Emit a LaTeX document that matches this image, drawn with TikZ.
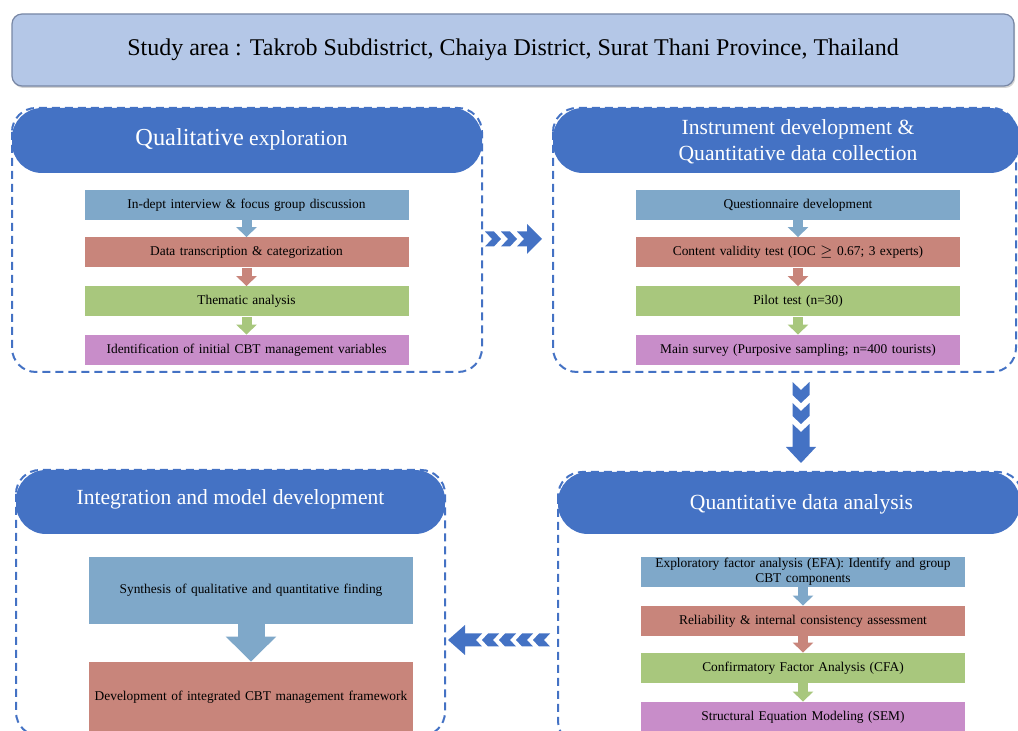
\documentclass[tikz,border=0pt]{standalone}
\usepackage{fontspec}
\setmainfont{Liberation Serif}
\usepackage{tikz}
\usetikzlibrary{arrows.meta, shadows}

\definecolor{headblue}{RGB}{68,114,196}
\definecolor{areafill}{RGB}{180,199,231}
\definecolor{areadraw}{RGB}{120,135,165}
\definecolor{stepblue}{RGB}{127,168,201}
\definecolor{stepred}{RGB}{200,133,123}
\definecolor{stepgreen}{RGB}{168,199,125}
\definecolor{steppurple}{RGB}{200,141,201}

\tikzset{
  stepbox/.style={text width=158pt, inner xsep=2pt, inner ysep=0pt, minimum height=15pt,
    align=center, font=\fontsize{6.7}{7.5}\selectfont},
  headtext/.style={text=white, align=center, font=\fontsize{10.8}{13}\selectfont},
  panel/.style={draw=headblue, line width=1pt, dash pattern=on 4pt off 2.5pt, rounded corners=12pt},
  smallarrow/.style={line width=5pt, -{Triangle[width=10pt,length=5pt]}},
  pics/chev/.style n args={3}{code={
    \fill[headblue] (0,-#2) -- ({#1-#3},-#2) -- (#1,0) -- ({#1-#3},#2) -- (0,#2) -- (#3,0) -- cycle;}},
  pics/chevhead/.style n args={5}{code={
    \fill[headblue] (0,-#2) -- (#1,-#2) -- (#1,-#3) -- ({#1+#4},0) -- (#1,#3) -- (#1,#2) -- (0,#2) -- (#5,0) -- cycle;}}
}

\begin{document}
\begin{tikzpicture}[x=0.5pt, y=-0.5pt]
    \useasboundingbox (0,0) rectangle (1018,731);

    % Study area
    \node[fill=areafill, draw=areadraw, line width=0.6pt, rounded corners=5pt,
          minimum width=501pt, minimum height=36pt,
          drop shadow={shadow xshift=0.6pt, shadow yshift=-1pt, opacity=0.35},
          font=\fontsize{12}{14}\selectfont] (area) at (513,50)
        {Study area : Takrob Subdistrict, Chaiya District, Surat Thani Province, Thailand};

    % Qualitative exploration
    \fill[headblue, rounded corners=15pt] (12,108) rectangle (482,173);
    \node[headtext] (qualhead) at (241.5,139)
        {{\fontsize{12.2}{14}\selectfont Qualitative} exploration};
    \node[stepbox, fill=stepblue] (q1) at (246.5,205) {In-dept interview \& focus group discussion};
    \node[stepbox, fill=stepred] (q2) at (246.5,252.5) {Data transcription \& categorization};
    \node[stepbox, fill=stepgreen] (q3) at (246.5,301.5) {Thematic analysis};
    \node[stepbox, fill=steppurple] (q4) at (246.5,350) {Identification of initial CBT management variables};
    \draw[smallarrow, stepblue] (q1) -- (q2);
    \draw[smallarrow, stepred] (q2) -- (q3);
    \draw[smallarrow, stepgreen] (q3) -- (q4);
    \draw[panel] (12,108) rectangle (482,372);

    % Instrument development & data collection
    \fill[headblue, rounded corners=15pt] (553,108) rectangle (1020,173);
    \node[headtext] (insthead) at (798,142)
        {Instrument development \&\\Quantitative data collection};
    \node[stepbox, fill=stepblue] (i1) at (798,205) {Questionnaire development};
    \node[stepbox, fill=stepred] (i2) at (798,252.5) {Content validity test (IOC \(\geq\) 0.67; 3 experts)};
    \node[stepbox, fill=stepgreen] (i3) at (798,301.5) {Pilot test (n=30)};
    \node[stepbox, fill=steppurple] (i4) at (798,350) {Main survey (Purposive sampling; n=400 tourists)};
    \draw[smallarrow, stepblue] (i1) -- (i2);
    \draw[smallarrow, stepred] (i2) -- (i3);
    \draw[smallarrow, stepgreen] (i3) -- (i4);
    \draw[panel] (553,108) rectangle (1016,372);

    % Quantitative data analysis
    \fill[headblue, rounded corners=15pt] (558,472) rectangle (1020,534);
    \node[headtext] (anahead) at (801.5,504) {Quantitative data analysis};
    \node[stepbox, fill=stepblue] (a1) at (803,572) {Exploratory factor analysis (EFA): Identify and group\\CBT components};
    \node[stepbox, fill=stepred] (a2) at (803,621) {Reliability \& internal consistency assessment};
    \node[stepbox, fill=stepgreen] (a3) at (803,668) {Confirmatory Factor Analysis (CFA)};
    \node[stepbox, fill=steppurple] (a4) at (803,717) {Structural Equation Modeling (SEM)};
    \draw[smallarrow, stepblue] (a1) -- (a2);
    \draw[smallarrow, stepred] (a2) -- (a3);
    \draw[smallarrow, stepgreen] (a3) -- (a4);
    \draw[panel] (558,472) rectangle (1022,745);

    % Integration and model development
    \fill[headblue, rounded corners=15pt] (16,470) rectangle (445,534);
    \node[headtext] (inthead) at (230.5,499) {Integration and model development};
    \node[stepbox, fill=stepblue, minimum height=33.5pt] (syn) at (251,590.5)
        {Synthesis of qualitative and quantitative finding};
    \node[stepbox, fill=stepred, minimum height=35pt] (dev) at (251,697)
        {Development of integrated CBT management framework};
    \draw[line width=13.5pt, stepblue, -{Triangle[width=24.5pt,length=12.5pt]}] (syn) -- (dev);
    \draw[panel] (16,470) rectangle (445,736);

    % Chevron arrows between the stages
    \pic at (485,239) {chev={16}{7.5}{7}};
    \pic at (501,239) {chev={16}{7.5}{7}};
    \pic at (517,239) {chevhead={10}{7.5}{15}{15}{7}};

    \pic[rotate=-90] at (801,382) {chev={21}{8.5}{8}};
    \pic[rotate=-90] at (801,403) {chev={21}{8.5}{8}};
    \pic[rotate=-90] at (801,424) {chevhead={23}{8.5}{15}{16}{8}};

    \pic[rotate=180] at (550,640) {chev={17}{6.5}{6}};
    \pic[rotate=180] at (533,640) {chev={17}{6.5}{6}};
    \pic[rotate=180] at (516,640) {chev={17}{6.5}{6}};
    \pic[rotate=180] at (499,640) {chev={17}{6.5}{6}};
    \pic[rotate=180] at (482,640) {chevhead={17}{6.5}{15}{17}{6}};
\end{tikzpicture}
\end{document}
